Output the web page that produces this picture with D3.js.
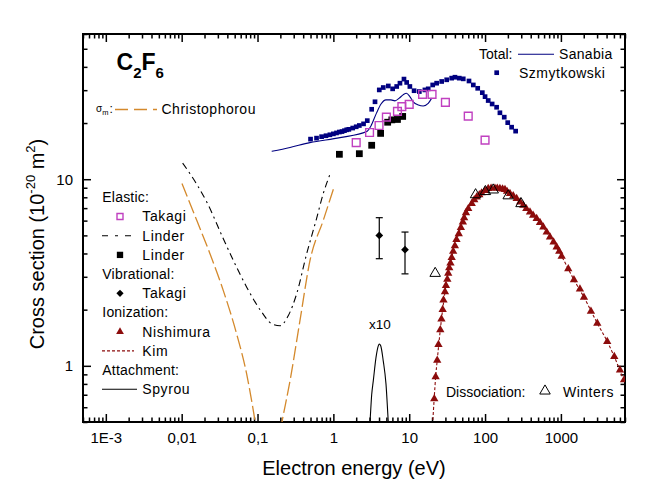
<!DOCTYPE html>
<html>
<head>
<meta charset="utf-8">
<script src="https://cdn.jsdelivr.net/npm/d3@7"></script>
<style>
  body { margin: 0; background: #fff; }
  text { font-family: "Liberation Sans", Arial, sans-serif; }
</style>
</head>
<body>
<script>
// ---- data (energy in eV, cross section in 1e-20 m^2) ----
const xTickValues = [1e-3, 1e-2, 0.1, 1, 10, 100, 1000];
const xTickLabels = ["1E-3", "0,01", "0,1", "1", "10", "100", "1000"];
const yTickValues = [1, 10];
const yTickLabels = ["1", "10"];

// total: Szmytkowski (points)
const szmytkowski = [
  [0.5,16.4],[0.6,16.6],[0.7,16.9],[0.8,17.1],[0.9,17.3],[1.0,17.5],[1.1,17.7],[1.2,17.9],
  [1.3,18.0],[1.4,18.2],[1.5,18.4],[1.6,18.5],[1.8,18.8],[2.0,19.1],[2.2,19.4],[2.5,19.8],
  [2.8,20.6],[3.2,23.7],[3.54,26.0],[4.03,30.1],[4.55,31.0],[5.3,31.6],[6.05,30.5],[6.84,31.4],
  [7.55,32.7],[8.53,34.4],[9.26,33.0],[10.2,31.4],[11.6,29.8],[13.6,29.5],[16.1,30.1],[17.8,30.5],
  [20.4,32.0],[23,32.7],[26.8,33.4],[31.2,34.1],[36.3,34.8],[40.1,35.2],[45.7,34.8],[51.6,34.5],
  [61.4,33.6],[70,32.0],[80,30.7],[92,29.1],[100,27.7],[110,26.4],[124,25.3],[142,24.3],
  [157,22.7],[179,21.5],[199,20.1],[224,19.0],[253,18.1]
];
// total: Sanabia (line)
const sanabia = [
  [0.154,14.1],[0.268,14.8],[0.49,15.7],[1.22,16.7],[2.75,18.0],[3.13,19.3],[3.70,22.6],
  [4.25,25.3],[4.94,26.6],[5.75,26.6],[6.49,26.3],[7.33,27.1],[8.28,28.3],[9.2,28.9],
  [10.2,27.7],[11.3,26.0],[13.2,25.0],[15.3,24.7],[17.8,25.5],[19.8,27.2]
];
// elastic
const takagiElastic = [
  [2,15.7],[3,17.8],[4,19.4],[5,21.5],[7,23.1],[8,24.5],[10,25.2],[15,28.5],[20,28.5],
  [30,25.8],[60,21.8],[100,16.2]
];
const linderPoints = [
  [1.2,13.6],[2.2,13.7],[3.2,15.2],[4.2,17.6],[5.2,20.2],[5.9,20.8],[7.0,20.9],[8.2,21.7]
];
const linderLine = [
  [0.0103,12.2],[0.0161,9.28],[0.0214,7.55],[0.0354,4.80],[0.048,3.67],[0.072,2.64],
  [0.1135,1.94],[0.154,1.68],[0.198,1.64],[0.255,1.86],[0.328,2.43],[0.445,3.99],
  [0.60,6.15],[0.736,8.38],[0.90,10.6]
];
// momentum transfer: Christophorou
const christophorou = [
  [0.0101,9.48],[0.0158,6.02],[0.0236,3.99],[0.0354,2.53],[0.0531,1.48],[0.072,0.902],
  [0.0897,0.55],[0.1,0.42],[0.2,0.45],[0.212,0.51],[0.268,0.83],[0.363,1.75],[0.492,3.67],
  [0.736,6.02],[1.0,8.84]
];
// vibrational: Takagi  [E, value, errLow, errHigh]
const takagiVib = [[4.03,5.0,3.75,6.22],[8.8,4.19,3.11,5.21]];
// attachment (x10): Spyrou
const spyrou = [
  [2.9,0.4],[3.04,0.5],[3.2,0.70],[3.36,0.83],[3.65,1.11],[3.91,1.28],[4.03,1.31],
  [4.21,1.28],[4.55,1.06],[4.94,0.80],[5.3,0.5],[5.5,0.4]
];
// ionization: Nishimura (points), Kim (line)
const nishimura = [
  [21.4,0.665],[22.3,0.873],[23.4,1.07],[24.3,1.30],[25.7,1.56],[26.6,1.78],[27.6,2.00],
  [28.3,2.25],[29.6,2.49],[30.5,2.69],[31.8,2.91],[32.7,3.13],[33.7,3.35],[35,3.55],
  [36.3,3.8],[38,4.1],[40,4.4],[42,4.75],[45,5.1],[48,5.5],[51,5.9],[53,6.2],[56,6.6],
  [60,6.95],[66.7,7.4],[72,7.75],[77.6,8.03],[84,8.25],[90,8.44],[100,8.7],[110,8.91],
  [120,8.95],[135,8.95],[145,8.95],[157,8.91],[170,8.85],[183,8.80],[195,8.6],[213,8.38],
  [235,8.15],[261,7.88],[290,7.55],[319,7.25],[350,6.95],[391,6.67],[430,6.4],[479,6.15],
  [530,5.85],[586,5.54],[650,5.2],[718,4.90],[800,4.6],[879,4.33],[950,4.1],[1023,3.86],
  [1250,3.31],[1486,2.89],[1782,2.58],[2014,2.33],[2489,1.96],[3020,1.69],[4083,1.35],
  [5058,1.12],[6012,0.95],[6792,0.84]
];
const kim = [
  [19.8,0.4],[21.4,0.68],[22.3,0.87],[23.4,1.07],[25.7,1.56],[27.6,2.0],[30.5,2.69],
  [33.7,3.35],[40,4.4],[51,5.9],[66.7,7.4],[90,8.44],[120,8.9],[160,8.85],[213,8.38],
  [319,7.25],[479,6.15],[718,4.90],[1023,3.86],[1486,2.89],[2014,2.33],[3020,1.69],
  [4083,1.35],[5058,1.12],[6792,0.84],[8000,0.75]
];
// dissociation: Winters
const winters = [[22,3.13],[75,8.26],[101,8.59],[128,8.76],[202,8.15],[298,7.40]];

const width = 661, height = 503;
const pLeft = 83, pRight = 625, pTop = 34, pBottom = 422;

const navy = "#000080", magenta = "#c040c0", darkred = "#8c0c0c", orange = "#d4892c";

const svg = d3.select("body").append("svg")
  .attr("width", width).attr("height", height)
  .style("background", "#fff");

const x = d3.scaleLog().domain([5e-4, 7000]).range([pLeft, pRight]);
const y = d3.scaleLog().domain([0.5, 60]).range([pBottom, pTop]);

const isMajor = v => Math.abs(Math.log10(v) - Math.round(Math.log10(v))) < 1e-9;
const xMinor = x.ticks().filter(v => !isMajor(v));
const yMinor = y.ticks().filter(v => !isMajor(v));

/** axes: ticks point inside, 4 sides */
function styleAxis(g) {
  g.select(".domain").remove();
  g.selectAll("line").attr("stroke", "#000").attr("stroke-width", 1.5);
  g.selectAll("text").attr("font-family", "Liberation Sans, Arial, sans-serif")
    .attr("font-size", 15).attr("fill", "#000");
}
const axes = [
  [d3.axisBottom, x, `translate(0,${pBottom})`, xTickValues, xTickLabels, xMinor],
  [d3.axisTop, x, `translate(0,${pTop})`, xTickValues, null, xMinor],
  [d3.axisLeft, y, `translate(${pLeft},0)`, yTickValues, yTickLabels, yMinor],
  [d3.axisRight, y, `translate(${pRight},0)`, yTickValues, null, yMinor]
];
axes.forEach(([fn, sc, tr, major, labels, minor]) => {
  svg.append("g").attr("transform", tr)
    .call(fn(sc).tickValues(minor).tickSize(-4.5).tickFormat(""))
    .call(styleAxis);
  svg.append("g").attr("transform", tr)
    .call(fn(sc).tickValues(major).tickSize(-8).tickPadding(10)
      .tickFormat((d, i) => labels ? labels[i] : ""))
    .call(styleAxis);
});

svg.append("rect")
  .attr("x", pLeft).attr("y", pTop).attr("width", pRight - pLeft).attr("height", pBottom - pTop)
  .attr("fill", "none").attr("stroke", "#000").attr("stroke-width", 2);

// axis titles
svg.append("text").attr("x", (pLeft + pRight) / 2).attr("y", 475)
  .attr("text-anchor", "middle").attr("font-size", 20).text("Electron energy (eV)");

const yt = svg.append("text").attr("transform", "translate(44,244) rotate(-90)")
  .attr("text-anchor", "middle").attr("font-size", 20);
yt.append("tspan").text("Cross section (10");
yt.append("tspan").attr("font-size", 13).attr("dy", -9).text("-20");
yt.append("tspan").attr("dy", 9).text(" m");
yt.append("tspan").attr("font-size", 13).attr("dy", -9).text("2");
yt.append("tspan").attr("dy", 9).text(")");

// ---- plot area ----
svg.append("clipPath").attr("id", "clip")
  .append("rect").attr("x", pLeft).attr("y", pTop).attr("width", pRight - pLeft).attr("height", pBottom - pTop);
const plot = svg.append("g").attr("clip-path", "url(#clip)");

const curve = d3.line().x(d => x(d[0])).y(d => y(d[1])).curve(d3.curveMonotoneX);

plot.append("path").datum(christophorou).attr("d", curve)
  .attr("fill", "none").attr("stroke", orange).attr("stroke-width", 1.3).attr("stroke-dasharray", "14,4");
plot.append("path").datum(linderLine).attr("d", curve)
  .attr("fill", "none").attr("stroke", "#000").attr("stroke-width", 1.1).attr("stroke-dasharray", "7,4,2,4");
plot.append("path").datum(sanabia).attr("d", curve)
  .attr("fill", "none").attr("stroke", navy).attr("stroke-width", 1.1);
plot.append("path").datum(spyrou).attr("d", curve)
  .attr("fill", "none").attr("stroke", "#000").attr("stroke-width", 1.1);
plot.append("path").datum(kim).attr("d", curve)
  .attr("fill", "none").attr("stroke", darkred).attr("stroke-width", 1.1).attr("stroke-dasharray", "3,2");

const sym = (type, size) => d3.symbol().type(type).size(size)();

plot.append("g").selectAll("path").data(szmytkowski).join("path")
  .attr("transform", d => `translate(${x(d[0])},${y(d[1])})`)
  .attr("d", sym(d3.symbolSquare, 22)).attr("fill", navy);

plot.append("g").selectAll("path").data(linderPoints).join("path")
  .attr("transform", d => `translate(${x(d[0])},${y(d[1])})`)
  .attr("d", sym(d3.symbolSquare, 46)).attr("fill", "#000");

plot.append("g").selectAll("path").data(takagiElastic).join("path")
  .attr("transform", d => `translate(${x(d[0])},${y(d[1])})`)
  .attr("d", sym(d3.symbolSquare, 60)).attr("fill", "none")
  .attr("stroke", magenta).attr("stroke-width", 1.4);

// vibrational with error bars
const vib = plot.append("g").selectAll("g").data(takagiVib).join("g");
vib.append("line").attr("x1", d => x(d[0])).attr("x2", d => x(d[0]))
  .attr("y1", d => y(d[2])).attr("y2", d => y(d[3])).attr("stroke", "#000").attr("stroke-width", 1.2);
[2, 3].forEach(k => {
  vib.append("line").attr("x1", d => x(d[0]) - 3.5).attr("x2", d => x(d[0]) + 3.5)
    .attr("y1", d => y(d[k])).attr("y2", d => y(d[k])).attr("stroke", "#000").attr("stroke-width", 1.2);
});
vib.append("path").attr("transform", d => `translate(${x(d[0])},${y(d[1])}) rotate(45)`)
  .attr("d", sym(d3.symbolSquare, 30)).attr("fill", "#000");

plot.append("g").selectAll("path").data(nishimura).join("path")
  .attr("transform", d => `translate(${x(d[0])},${y(d[1])})`)
  .attr("d", sym(d3.symbolTriangle, 30)).attr("fill", darkred);

plot.append("g").selectAll("path").data(winters).join("path")
  .attr("transform", d => `translate(${x(d[0])},${y(d[1])})`)
  .attr("d", sym(d3.symbolTriangle, 48)).attr("fill", "none")
  .attr("stroke", "#000").attr("stroke-width", 1);

// ---- labels & legends ----
const c2f6 = svg.append("text").attr("x", 116.5).attr("y", 70)
  .attr("font-size", 23).attr("font-weight", "bold");
c2f6.append("tspan").text("C");
c2f6.append("tspan").attr("font-size", 15).attr("dy", 8).text("2");
c2f6.append("tspan").attr("dy", -8).text("F");
c2f6.append("tspan").attr("font-size", 15).attr("dy", 8).text("6");

const sig = svg.append("text").attr("x", 96).attr("y", 112).attr("font-size", 10);
sig.append("tspan").text("σ");
sig.append("tspan").attr("font-size", 7.5).attr("dy", 3).text("m");
svg.append("text").attr("x", 109.5).attr("y", 113).attr("font-size", 12).text(":");
svg.append("line").attr("x1", 115).attr("x2", 157).attr("y1", 109.5).attr("y2", 109.5)
  .attr("stroke", orange).attr("stroke-width", 1.3).attr("stroke-dasharray", "13,6");
svg.append("text").attr("x", 161.5).attr("y", 109.5).attr("dy", "0.35em")
  .attr("font-size", 14).attr("letter-spacing", 0.5).text("Christophorou");

svg.append("text").attr("x", 380).attr("y", 324).attr("dy", "0.35em")
  .attr("text-anchor", "middle").attr("font-size", 13.5).text("x10");

// top-right legend
svg.append("text").attr("x", 479).attr("y", 54.3).attr("dy", "0.35em")
  .attr("font-size", 14).text("Total:");
svg.append("line").attr("x1", 518).attr("x2", 554).attr("y1", 54.3).attr("y2", 54.3)
  .attr("stroke", navy).attr("stroke-width", 1.1);
svg.append("text").attr("x", 559).attr("y", 54.3).attr("dy", "0.35em")
  .attr("font-size", 14).attr("letter-spacing", 0.3).text("Sanabia");
svg.append("path").attr("transform", "translate(496.7,72.7)")
  .attr("d", sym(d3.symbolSquare, 22)).attr("fill", navy);
svg.append("text").attr("x", 519).attr("y", 73.3).attr("dy", "0.35em")
  .attr("font-size", 14).attr("letter-spacing", 0.5).text("Szmytkowski");

// dissociation legend
svg.append("text").attr("x", 446).attr("y", 392.3).attr("dy", "0.35em")
  .attr("font-size", 14).text("Dissociation:");
svg.append("path").attr("transform", "translate(545,391)")
  .attr("d", sym(d3.symbolTriangle, 48)).attr("fill", "none").attr("stroke", "#000");
svg.append("text").attr("x", 563).attr("y", 392.3).attr("dy", "0.35em")
  .attr("font-size", 14).attr("letter-spacing", 0.5).text("Winters");

// left legend
const legendRows = [
  { label: "Elastic:", head: true },
  { label: "Takagi", mark: "openSquare" },
  { label: "Linder", mark: "dashdot" },
  { label: "Linder", mark: "square" },
  { label: "Vibrational:", head: true },
  { label: "Takagi", mark: "diamond" },
  { label: "Ionization:", head: true },
  { label: "Nishimura", mark: "triangle" },
  { label: "Kim", mark: "dashed" },
  { label: "Attachment:", head: true },
  { label: "Spyrou", mark: "solid" }
];
const lg = svg.append("g");
legendRows.forEach((r, i) => {
  const yy = 197.3 + i * 19.2;
  lg.append("text").attr("x", r.head ? 102.3 : 142.3).attr("y", yy).attr("dy", "0.35em")
    .attr("font-size", 14).attr("letter-spacing", r.head ? 0.2 : 0.6).text(r.label);
  if (r.mark === "openSquare") {
    lg.append("path").attr("transform", `translate(120,${yy})`).attr("d", sym(d3.symbolSquare, 36))
      .attr("fill", "none").attr("stroke", magenta).attr("stroke-width", 1.4);
  } else if (r.mark === "square") {
    lg.append("path").attr("transform", `translate(120,${yy})`).attr("d", sym(d3.symbolSquare, 40)).attr("fill", "#000");
  } else if (r.mark === "diamond") {
    lg.append("path").attr("transform", `translate(120,${yy}) rotate(45)`).attr("d", sym(d3.symbolSquare, 26)).attr("fill", "#000");
  } else if (r.mark === "triangle") {
    lg.append("path").attr("transform", `translate(120,${yy})`).attr("d", sym(d3.symbolTriangle, 26)).attr("fill", darkred);
  } else if (r.mark) {
    const l = lg.append("line").attr("x1", 102).attr("x2", r.mark === "solid" ? 137 : 134)
      .attr("y1", yy).attr("y2", yy).attr("stroke-width", 1.1);
    if (r.mark === "dashdot") l.attr("stroke", "#000").attr("stroke-dasharray", "6,7,3,7");
    if (r.mark === "dashed") l.attr("stroke", darkred).attr("stroke-dasharray", "3,2");
    if (r.mark === "solid") l.attr("stroke", "#000");
  }
});
</script>
</body>
</html>
